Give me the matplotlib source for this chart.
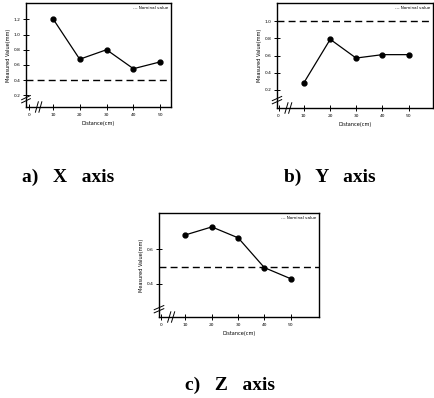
import matplotlib.pyplot as plt
import numpy as np

# positions along the distance axis (0 = origin, then broken axis)
pos = [0.9, 1.9, 2.9, 3.9, 4.9]
dist_labels = ['10', '20', '30', '40', '50']

x_vals = [1.21, 0.675, 0.80, 0.55, 0.64]
y_vals = [0.275, 0.79, 0.57, 0.61, 0.61]
z_vals = [0.682, 0.728, 0.665, 0.494, 0.43]

x_nominal = 0.4
y_nominal = 1.0
z_nominal = 0.5

x_yticks = [0.2, 0.4, 0.6, 0.8, 1.0, 1.2]
y_yticks = [0.2, 0.4, 0.6, 0.8, 1.0]
z_yticks = [0.4, 0.6]

fig = plt.figure(figsize=(4.34, 3.98), dpi=100)


def panel(rect, xs, vals, nominal, yticks, xlim, ylim):
    ax = fig.add_axes(rect)
    ax.plot(xs, vals, '-o', color='black', lw=0.9, ms=3.5)
    ax.axhline(nominal, color='black', ls=(0, (5, 3)), lw=1.0)
    ax.set_xlim(*xlim)
    ax.set_ylim(*ylim)
    ax.set_xticks([0] + list(xs))
    ax.set_xticklabels(['0'] + dist_labels)
    ax.set_yticks(yticks)
    ax.set_yticklabels([f'{t:.1f}' for t in yticks])
    ax.tick_params(direction='inout', length=4, width=0.7,
                   labelsize=3.2, pad=2, colors='black')
    for s in ax.spines.values():
        s.set_linewidth(1.0)
    ax.set_xlabel('Distance(cm)', fontsize=3.6, labelpad=3)
    ax.set_ylabel('Measured Value(mm)', fontsize=3.6, labelpad=2)
    ax.text(0.98, 0.97, '--- Nominal value', transform=ax.transAxes,
            ha='right', va='top', fontsize=3)
    # axis break marks
    bx = (0.37 - xlim[0]) / (xlim[1] - xlim[0])
    for dx in (-0.012, 0.012):
        ax.plot([bx + dx - 0.01, bx + dx + 0.01], [-0.05, 0.05],
                transform=ax.transAxes, color='black', lw=0.7, clip_on=False)
    for dy in (0.06, 0.09):
        ax.plot([-0.03, 0.03], [dy - 0.02, dy + 0.02],
                transform=ax.transAxes, color='black', lw=0.7, clip_on=False)
    return ax


panel([26 / 434, 1 - 107 / 398, 145 / 434, 104 / 398],
      pos, x_vals, x_nominal, x_yticks, (-0.1, 5.3), (0.046, 1.415))
panel([277 / 434, 1 - 108 / 398, 156 / 434, 105 / 398],
      [0.95, 1.96, 2.94, 3.94, 4.94], y_vals, y_nominal, y_yticks,
      (-0.06, 5.86), (-0.016, 1.216))
panel([159 / 434, 1 - 317 / 398, 160 / 434, 104 / 398],
      [0.91, 1.91, 2.91, 3.9, 4.9], z_vals, z_nominal, z_yticks,
      (-0.09, 5.97), (0.21, 0.808))

cap = dict(fontsize=14, family='Liberation Serif', fontweight='bold',
           ha='center', va='center')
fig.text(68 / 434, 1 - 177 / 398, 'a)   X   axis', **cap)
fig.text(330 / 434, 1 - 177 / 398, 'b)   Y   axis', **cap)
fig.text(230 / 434, 1 - 385 / 398, 'c)   Z   axis', **cap)

fig.savefig('out.png', dpi=100)
